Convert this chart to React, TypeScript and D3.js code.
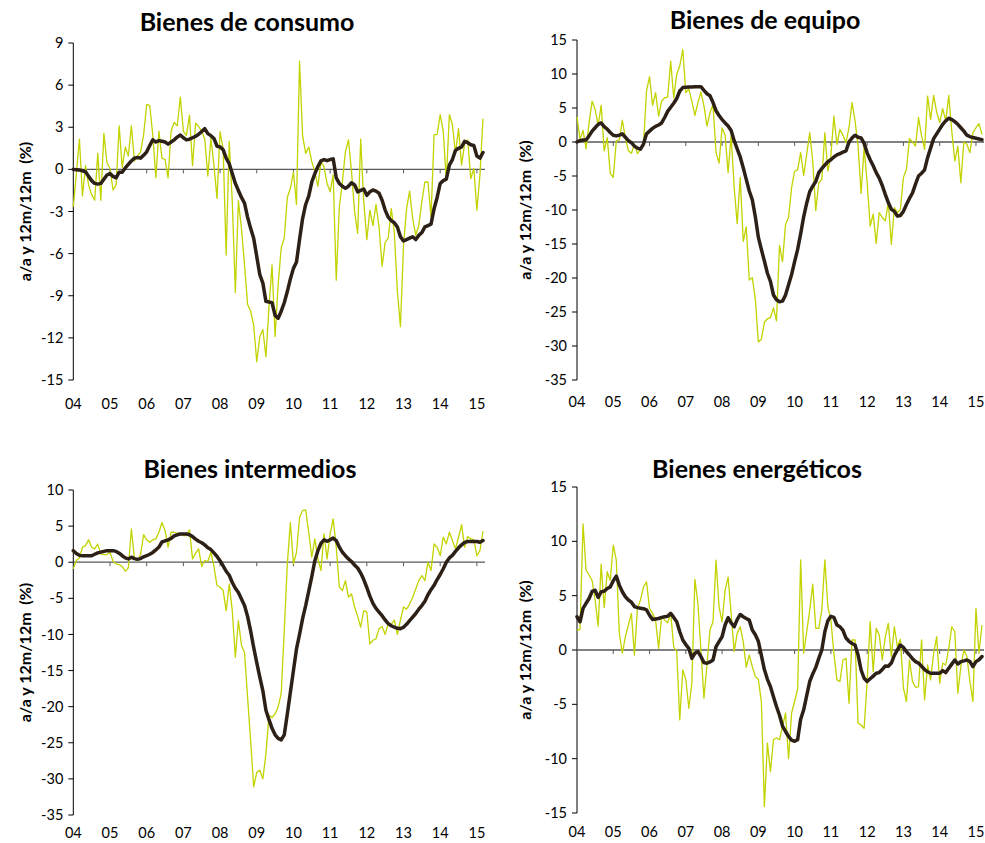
import React from 'react';
import * as d3 from 'd3';

// Meses: ene-2004 .. mar-2015 (135 observaciones)
const yearLabels = ['04', '05', '06', '07', '08', '09', '10', '11', '12', '13', '14', '15'];

const titles = ['Bienes de consumo', 'Bienes de equipo', 'Bienes intermedios', 'Bienes energéticos'];
const axisTitle = 'a/a y 12m/12m  (%)';

// a/a mensual (linea fina) y 12m/12m (linea gruesa)
const consumoMensual = [
  -2.66, -0.3, 2.16, -1.9, 0.26, -1.1, -1.8, -2.2, 1.14, -2.2, 2.57, 0.47,
  0.07, -1.47, -1.1, 3.1, 0.12, 1.6, 0.95, 3.1, 0.6, 0.95, 1.25, 2.45,
  4.63, 4.54, 2.45, -0.6, 2.73, 0.78, 0.71, -0.6, 2.73, 3.35, 3.1, 5.15,
  2.73, 2.4, 3.87, 0.26, 3.3, 3.04, 2.73, 2.16, -0.47, 2.2, 0.31, -2.07,
  2.68, 1.5, -6.1, 2.0, -2.3, -8.77, -2.23, -4.2, -6.8, -9.6, -10.1, -11.1,
  -13.7, -11.9, -11.4, -13.35, -9.8, -6.8, -11.9, -8.2, -5.6, -4.9, -2.0, -1.35,
  -0.2, -2.5, 7.7, 2.4, 1.14, 1.6, 0.55, -0.17, -1.2, 0.55, 0.2, -1.0,
  -1.6, -0.4, -7.9, -2.7, -0.9, 1.26, 2.1, -0.17, -3.0, -4.56, 2.16, -2.3,
  -5.0, -2.9, -4.0, -2.5, -4.1, -6.9, -5.2, -4.9, -2.8, -4.5, -8.7, -11.2,
  -5.4, -2.8, -1.55, -3.5, -4.7, -4.0, -2.3, -0.9, -0.9, -3.4, 2.45, 2.5,
  3.9, 2.7, -0.8, 3.9, 3.2, 1.14, 2.9, 0.3, 1.85, 2.1, -0.65, 0.07,
  -2.9, -0.4, 3.6,
];
const consumo12m = [
  0, -0.02, -0.05, -0.1, -0.17, -0.5, -0.8, -1.0, -1.05, -1.0, -0.7, -0.4,
  -0.3, -0.5, -0.6, -0.2, -0.2, 0.1, 0.35, 0.6, 0.8, 0.85, 0.8, 1.0,
  1.25, 1.7, 2.1, 1.95, 2.05, 2.0, 1.95, 1.8, 1.95, 2.1, 2.3, 2.45,
  2.25, 2.1, 2.15, 2.25, 2.35, 2.5, 2.7, 2.9, 2.55, 2.4, 2.2, 1.65,
  1.6, 1.4, 0.8, 0.4, -0.3, -1.0, -1.5, -2.0, -2.4, -3.4, -4.2, -4.9,
  -6.2, -7.5, -8.1, -9.4, -9.45, -9.5, -10.4, -10.6, -10.1, -9.5, -8.7, -7.8,
  -7.05, -6.6, -5.0, -3.5, -2.5, -1.9, -0.9, -0.3, 0.2, 0.6, 0.7, 0.62,
  0.7, 0.75, -0.6, -1.0, -1.2, -1.35, -1.2, -0.95, -1.1, -1.6, -1.5, -1.4,
  -1.85, -1.6, -1.47, -1.55, -1.7, -2.2, -2.9, -3.4, -3.65, -3.8, -4.1, -4.8,
  -5.1, -5.0, -4.9, -4.8, -5.0, -4.7, -4.5, -4.1, -4.0, -3.9, -2.8, -2.0,
  -1.0, -0.8, -0.7, 0.3, 0.7, 1.35, 1.5, 1.6, 2.0, 1.9, 1.75, 1.7,
  0.95, 0.8, 1.2,
];

const equipoMensual = [
  3.7, 0.4, 1.7, -1.0, 2.84, 6.0, 4.8, 2.45, 5.4, -1.3, 0.64, -4.6,
  -5.2, 0.15, 0.3, 3.2, 0.64, -1.3, -1.67, -0.34, -1.7, -1.08, -0.34, 7.5,
  9.6, 5.4, 7.25, 3.8, 6.0, 6.5, 6.6, 11.9, 6.5, 9.95, 11.2, 13.6,
  7.25, 7.8, 6.0, 3.9, 5.8, 7.35, 5.3, 2.35, 4.3, 5.5, -1.57, -3.1,
  2.1, 0.98, -4.5, 1.0, -6.7, -12.0, -5.2, -14.6, -12.5, -20.3, -19.95, -23.1,
  -29.4, -29.0, -26.5, -26.0, -25.8, -24.4, -26.3, -15.2, -17.6, -12.1, -11.1, -6.7,
  -4.3, -4.1, -1.57, -4.9, -1.8, 1.37, -2.8, -10.1, -6.0, -5.5, 1.37, -4.26,
  -2.06, 3.8, -0.34, 1.86, 0.98, -0.1, 2.1, 5.8, 3.1, -0.6, -7.55, -0.83,
  -6.0, -12.35, -10.6, -14.9, -10.4, -11.1, -11.6, -8.9, -15.05, -9.65, -10.4, -9.9,
  -5.2, -4.0, 0.5, 0, -0.6, 3.6, 0.9, -1.08, 6.76, 3.3, 6.86, 4.4,
  2.84, 4.9, 3.1, 6.86, 1.6, -2.8, -0.6, -6.0, 0, -0.34, -1.57, 1.37,
  2.1, 2.7, 1.1,
];
const equipo12m = [
  0, 0.2, 0.3, 0.3, 0.9, 1.6, 2.1, 2.6, 2.8, 2.25, 1.9, 1.4,
  1.0, 0.9, 1.0, 1.2, 0.7, 0.2, -0.1, -0.6, -0.9, -1.05, -0.3, 1.2,
  1.6, 2.0, 2.3, 2.5, 2.8, 3.6, 4.5, 5.1, 5.7, 6.4, 7.5, 8.0,
  8.05, 8.1, 8.1, 8.14, 8.14, 8.14, 7.6, 7.1, 6.8, 5.8, 4.6, 3.9,
  3.3, 2.8, 2.35, 1.7, 0.2, -1.0, -2.2, -3.8, -5.5, -7.2, -8.5, -11.0,
  -14.0, -15.8, -17.5, -19.3, -20.5, -22.5, -23.2, -23.5, -23.4, -22.5, -21.0, -19.5,
  -17.6, -15.8, -13.5, -11.0, -9.0, -7.3, -6.5, -5.8, -4.5, -3.9, -3.4, -2.9,
  -2.6, -2.2, -1.9, -1.7, -1.5, -1.3, 0.0, 0.6, 1.0, 0.7, 0.6, -0.2,
  -1.6, -2.6, -3.5, -4.5, -5.3, -6.4, -7.7, -8.9, -9.9, -10.2, -10.9, -10.8,
  -10.2, -9.2, -8.3, -7.5, -6.2, -5.0, -4.6, -4.1, -2.3, -0.9, 0.5, 1.2,
  1.9, 2.6, 3.1, 3.5, 3.3, 3.0, 2.6, 2.1, 1.6, 1.0, 0.8, 0.65,
  0.55, 0.45, 0.35,
];

const intermediosMensual = [
  -0.9, 0.23, 0.6, 2.08, 2.3, 3.1, 2.08, 1.85, 2.5, 1.15, 1.06, 1.06,
  1.38, 0.14, -0.23, -0.32, -0.6, -1.25, -0.78, 4.6, 0.46, 0.23, 1.06, 3.83,
  3.1, 2.77, 3.1, 3.23, 4.15, 5.5, 4.4, 2.08, 4.15, 4.15, 4.0, 4.0,
  3.7, 3.7, 4.48, 0.46, 1.25, 1.85, -0.6, 0.23, 0.1, 1.38, -0.6, -3.23,
  -3.46, -3.9, -6.7, -3.0, -6.7, -13.15, -8.1, -11.5, -12.5, -18.7, -24.7, -31.1,
  -29.1, -28.8, -30.0, -26.5, -21.2, -21.5, -21.0, -20.0, -18.2, -9.45, -0.23, 5.5,
  -0.23, 1.38, 6.2, 7.15, 7.25, 4.15, 0.7, 3.23, 0.46, -1.15, 3.92, 0.46,
  3.92, 6.0, 2.08, -3.37, -3.92, -2.54, -4.84, -4.38, -6.2, -7.5, -9.0, -6.7,
  -6.9, -11.3, -10.8, -10.6, -9.2, -8.9, -10.0, -8.5, -8.6, -8.0, -10.0, -8.0,
  -6.2, -6.5, -5.8, -4.84, -3.7, -2.54, -1.85, -2.54, 0, -1.15, 2.54, 2.08,
  0.92, 3.46, 2.54, 4.15, 3.0, 1.85, 3.46, 5.2, 2.08, 3.55, 3.23, 3.1,
  0.92, 1.6, 4.3,
];
const intermedios12m = [
  1.6, 1.2, 0.95, 0.88, 0.88, 0.88, 0.9, 1.1, 1.3, 1.4, 1.5, 1.6,
  1.6, 1.6, 1.5, 1.25, 0.9, 0.6, 0.46, 0.7, 0.5, 0.4, 0.5, 0.75,
  0.9, 1.1, 1.35, 1.7, 2.1, 2.8, 2.95, 3.1, 3.3, 3.65, 3.8, 3.9,
  3.92, 3.92, 3.8, 3.55, 3.2, 2.9, 2.7, 2.4, 2.0, 1.75, 1.3, 0.8,
  0.2, -0.5, -1.25, -1.8, -2.8, -3.6, -4.2, -5.1, -6.0, -7.5, -9.5, -11.8,
  -13.9, -15.9, -17.8, -20.5, -21.8, -23.0, -23.9, -24.4, -24.6, -23.9, -21.0, -18.0,
  -15.0, -12.0, -10.0, -7.8, -6.0, -4.0, -2.0, 0.2, 1.6, 2.6, 3.1, 2.9,
  3.1, 3.35, 3.0, 2.1, 1.4, 0.9, 0.45, 0.1, -0.4, -0.8, -1.5, -2.4,
  -3.5, -4.7, -5.7, -6.4, -6.9, -7.4, -8.0, -8.5, -8.8, -9.0, -9.15, -9.2,
  -9.0, -8.6, -8.1, -7.6, -7.1, -6.5, -6.0, -5.4, -4.5, -3.8, -3.2, -2.4,
  -1.7, -0.9, 0.0, 0.6, 0.95, 1.5, 2.0, 2.4, 2.75, 2.86, 2.86, 2.86,
  2.86, 2.77, 3.0,
];

const energeticosMensual = [
  1.84, 1.9, 11.6, 7.35, 6.9, 6.4, 4.6, 2.2, 7.9, 3.92, 7.2, 6.4,
  9.64, 8.26, 1.53, -0.3, 1.22, 2.3, 3.37, -0.46, 3.83, 4.6, 5.8, 6.27,
  3.83, 3.37, 2.75, 0.15, 3.06, 2.75, 2.5, 3.37, 0.3, -0.15, -6.43, -1.84,
  -2.7, -5.36, -3.06, 6.5, 4.3, 0, -4.44, -1.38, 1.84, 2.6, 8.26, 3.98,
  2.6, 5.5, 6.7, 3.37, -0.15, 1.53, 2.14, 0.77, -1.6, -0.46, -1.53, -2.45,
  -2.7, -4.74, -14.4, -8.57, -11.2, -8.26, -8.1, -8.26, -7.0, -5.8, -10.0, -5.8,
  -4.74, -3.6, 8.3, -0.3, 1.68, 3.67, 6.06, 1.99, 1.99, 3.67, 8.3, 3.98,
  2.75, -0.3, -2.75, -2.9, -0.92, -0.77, -4.9, 0.92, 0.92, -6.73, -6.9, -7.2,
  -2.9, 2.6, -2.0, 1.99, 1.38, -0.92, 1.22, 2.45, -0.6, 2.14, 0.3, 0.98,
  -3.5, -4.74, -0.92, -2.9, -3.43, -3.37, 0.92, -4.6, -1.38, -2.75, -0.3, 1.22,
  -3.06, -1.22, -1.38, 0.15, 2.14, 1.68, -3.98, -1.53, 0, -0.6, -2.9, -4.74,
  3.83, -0.3, 2.3,
];
const energeticos12m = [
  3.06, 2.6, 3.83, 4.3, 4.74, 5.4, 5.5, 4.84, 5.36, 5.4, 5.66, 5.8,
  6.37, 6.8, 5.97, 5.36, 4.9, 4.6, 4.4, 4.0, 3.9, 3.85, 3.8, 3.7,
  3.2, 2.8, 2.85, 2.9, 3.0, 3.06, 3.1, 3.37, 3.0, 2.6, 1.68, 0.92,
  0.5, 0.15, -0.77, -0.3, -0.15, -0.6, -1.16, -1.22, -1.1, -0.92, 0.3, 0.77,
  1.22, 2.3, 2.97, 2.5, 2.14, 2.8, 3.27, 3.06, 2.9, 2.75, 1.84, 1.4,
  0.8, -0.5, -1.8, -2.7, -3.37, -4.3, -5.2, -6.0, -7.0, -7.5, -7.96, -8.3,
  -8.4, -8.26, -6.37, -5.5, -4.2, -2.9, -2.2, -1.6, -0.77, 0, 1.68, 2.7,
  3.1, 3.0, 2.3, 2.14, 1.8, 1.1, 0.8, 0.6, 0.46, -0.46, -1.84, -2.6,
  -2.9, -2.65, -2.4, -2.14, -2.08, -1.8, -1.47, -1.5, -1.2, -0.5, 0, 0.46,
  0.24, -0.15, -0.46, -0.8, -1.07, -1.2, -1.5, -1.8, -2.0, -2.14, -2.14, -2.14,
  -2.14, -1.9, -2.08, -1.68, -1.3, -0.92, -1.29, -1.07, -1.0, -0.92, -1.07, -1.53,
  -1.07, -0.9, -0.6,
];

const yDomains: [number, number, number][] = [
  [-15, 9, 3],
  [-35, 15, 5],
  [-35, 10, 5],
  [-15, 15, 5],
];

const FONT = 'Lato, "Open Sans", sans-serif';
const THIN = '#c2d300';
const THICK = '#2d2016';

interface PanelProps {
  title: string;
  monthly: number[];
  yoy12: number[];
  domain: [number, number, number];
  left: number;
  right: number;
  top: number;
  bottom: number;
  titleX: number;
  titleY: number;
  labelX: number;
  xLabelY: number;
}

const Panel: React.FC<PanelProps> = ({
  title, monthly, yoy12, domain, left, right, top, bottom, titleX, titleY, labelX, xLabelY,
}) => {
  const [yMin, yMax, step] = domain;
  const x = d3.scaleLinear().domain([0, monthly.length - 1]).range([left, right]);
  const y = d3.scaleLinear().domain([yMin, yMax]).range([bottom, top]);
  const yTicks = d3.range(yMin, yMax + step / 2, step);
  const line = d3.line<number>().x((_, i) => x(i)).y(d => y(d));
  const yearX = (k: number) => x(k * 12);

  return (
    <g>
      <text x={titleX} y={titleY} textAnchor="middle" fontFamily={FONT} fontWeight="bold" fontSize={25}>
        {title}
      </text>
      <text
        transform={`translate(${labelX},${(top + bottom) / 2}) rotate(-90)`}
        textAnchor="middle"
        fontFamily={FONT}
        fontWeight="bold"
        fontSize={16}
        style={{ whiteSpace: 'pre' }}
      >
        {axisTitle}
      </text>

      {/* eje Y */}
      <line x1={left} x2={left} y1={top} y2={bottom} stroke="#000" strokeWidth={1} />
      {yTicks.map(t => (
        <g key={t}>
          <line x1={left - 5} x2={left} y1={y(t)} y2={y(t)} stroke="#000" strokeWidth={1} />
          <text x={left - 10} y={y(t)} dy="0.35em" textAnchor="end" fontFamily={FONT} fontSize={14.5}>
            {t}
          </text>
        </g>
      ))}

      {/* linea cero con marcas anuales */}
      <line x1={left} x2={right + 2} y1={y(0)} y2={y(0)} stroke="#595959" strokeWidth={1.3} />
      {yearLabels.map((lab, k) => (
        <g key={lab}>
          {k > 0 && (
            <line x1={yearX(k)} x2={yearX(k)} y1={y(0)} y2={y(0) + 4} stroke="#595959" strokeWidth={1} />
          )}
          <text x={yearX(k)} y={xLabelY} textAnchor="middle" fontFamily={FONT} fontSize={14.5}>
            {lab}
          </text>
        </g>
      ))}

      <path d={line(monthly) || ''} fill="none" stroke={THIN} strokeWidth={1.3} strokeLinejoin="round" />
      <path d={line(yoy12) || ''} fill="none" stroke={THICK} strokeWidth={3.5} strokeLinejoin="round" strokeLinecap="round" />
    </g>
  );
};

export default function App() {
  const series = [
    [consumoMensual, consumo12m],
    [equipoMensual, equipo12m],
    [intermediosMensual, intermedios12m],
    [energeticosMensual, energeticos12m],
  ];
  const geom = [
    { left: 73.3, right: 483, top: 43, bottom: 380, titleX: 247, titleY: 31, labelX: 31, xLabelY: 409 },
    { left: 577, right: 982, top: 40, bottom: 380, titleX: 765, titleY: 29, labelX: 531, xLabelY: 407 },
    { left: 73.3, right: 483, top: 490, bottom: 815, titleX: 250, titleY: 478, labelX: 31, xLabelY: 838 },
    { left: 577, right: 982, top: 487, bottom: 813, titleX: 757, titleY: 478, labelX: 531, xLabelY: 837 },
  ];

  return (
    <svg width={985} height={843} style={{ position: 'absolute', left: 0, top: 0, background: '#fff' }}>
      {geom.map((g, i) => (
        <Panel
          key={titles[i]}
          title={titles[i]}
          monthly={series[i][0]}
          yoy12={series[i][1]}
          domain={yDomains[i]}
          {...g}
        />
      ))}
    </svg>
  );
}
